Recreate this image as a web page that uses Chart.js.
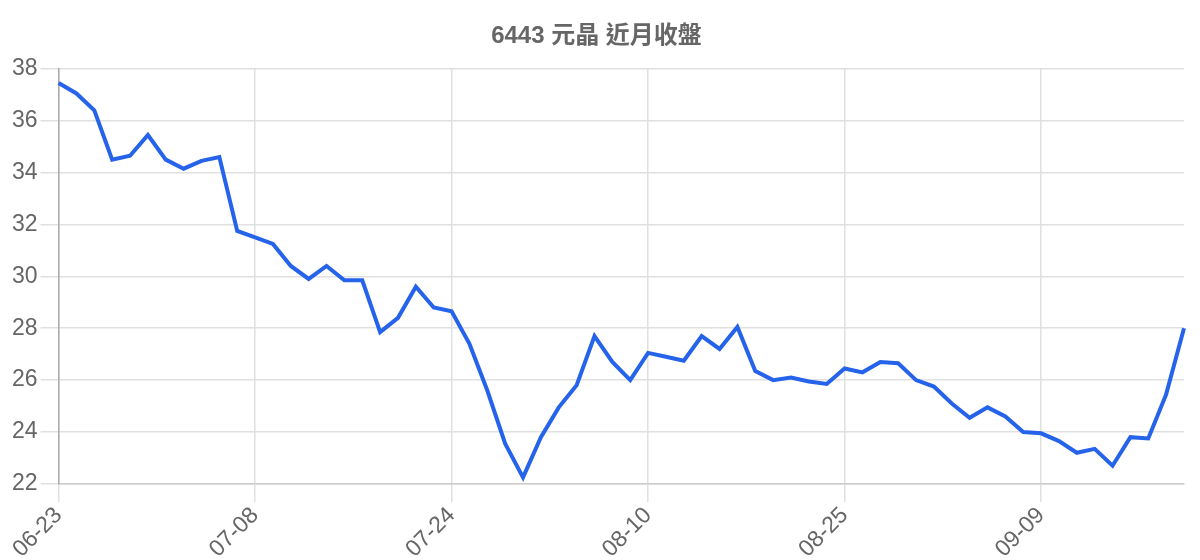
<!DOCTYPE html>
<html>
<head>
<meta charset="utf-8">
<script src="https://cdn.jsdelivr.net/npm/chart.js@4"></script>
<style>
  body { margin: 0; background: #fff; }
  #wrap { width: 1200px; height: 560px; }
</style>
</head>
<body>
<div id="wrap"><canvas id="chartClose"></canvas></div>
<script>
var dates = [
    '06-23', '06-24', '06-25', '06-26', '06-27', '06-30', '07-01', '07-02', '07-03', '07-04', '07-07',
    '07-08', '07-09', '07-10', '07-11', '07-14', '07-15', '07-16', '07-17', '07-18', '07-21', '07-23',
    '07-24', '07-25', '07-28', '07-29', '07-30', '07-31', '08-01', '08-04', '08-05', '08-06', '08-07',
    '08-10', '08-11', '08-12', '08-13', '08-14', '08-15', '08-18', '08-19', '08-20', '08-21', '08-22',
    '08-25', '08-26', '08-27', '08-28', '08-29', '09-01', '09-02', '09-03', '09-04', '09-05', '09-08',
    '09-09', '09-10', '09-11', '09-12', '09-15', '09-16', '09-17', '09-18', '09-19'
];
var closes = [
    37.45, 37.05, 36.4, 34.5, 34.65, 35.45, 34.5, 34.15, 34.45, 34.6, 31.75,
    31.5, 31.25, 30.4, 29.9, 30.4, 29.85, 29.85, 27.85, 28.4, 29.6, 28.8,
    28.65, 27.4, 25.6, 23.55, 22.25, 23.8, 24.95, 25.8, 27.7, 26.7, 26.0,
    27.05, 26.9, 26.75, 27.7, 27.2, 28.05, 26.35, 26.0, 26.1, 25.95, 25.85,
    26.45, 26.3, 26.7, 26.65, 26.0, 25.75, 25.1, 24.55, 24.95, 24.6, 24.0,
    23.95, 23.65, 23.2, 23.35, 22.7, 23.8, 23.75, 25.45, 28.0
];
var labelEvery = 11;
var yMin = 22, yMax = 38, yStep = 2;

var fontFamily = '"Liberation Sans", Arial, "Noto Sans CJK TC", sans-serif';

new Chart(document.getElementById('chartClose'), {
    type: 'line',
    data: {
        labels: dates,
        datasets: [{
            label: '收盤',
            data: closes,
            borderColor: '#2563eb',
            backgroundColor: '#2563eb',
            borderWidth: 4,
            pointRadius: 0,
            tension: 0,
            fill: false
        }]
    },
    options: {
        responsive: true,
        maintainAspectRatio: false,
        animation: false,
        layout: { padding: { left: 9, right: 16, top: 10, bottom: -3 } },
        plugins: {
            legend: { display: false },
            tooltip: { enabled: false },
            title: {
                display: true,
                text: '6443 元晶 近月收盤',
                color: '#666',
                font: { family: fontFamily, size: 24, weight: 'bold' },
                padding: { top: 12, bottom: 18 }
            }
        },
        scales: {
            x: {
                grid: { color: '#e0e0e0', lineWidth: 1.5, tickLength: 18 },
                border: { color: '#ccc', width: 1.5 },
                ticks: {
                    autoSkip: false,
                    maxRotation: 45,
                    minRotation: 45,
                    padding: 0,
                    color: '#666',
                    font: { family: fontFamily, size: 23 },
                    callback: function (value, index) {
                        return index % labelEvery === 0 ? this.getLabelForValue(value) : null;
                    }
                }
            },
            y: {
                min: yMin,
                max: yMax,
                grid: { color: '#e0e0e0', lineWidth: 1.5, tickLength: 18 },
                border: { color: '#aaa', width: 1.5 },
                ticks: {
                    stepSize: yStep,
                    padding: 3,
                    color: '#666',
                    font: { family: fontFamily, size: 23 }
                }
            }
        }
    }
});
</script>
</body>
</html>
